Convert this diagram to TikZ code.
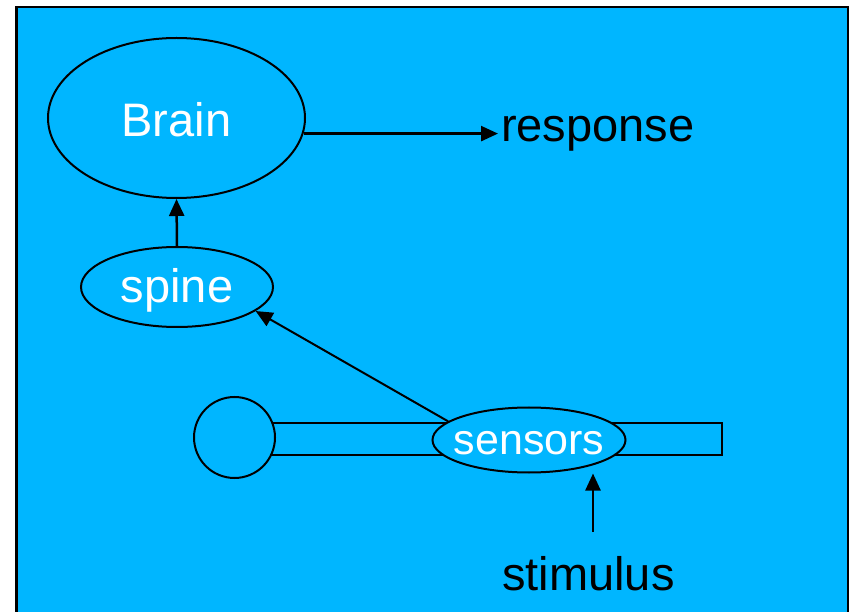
\documentclass[tikz,border=0pt]{standalone}
\usepackage{fontspec}
\setmainfont{Liberation Sans}
\usetikzlibrary{arrows.meta, shapes.geometric}
\definecolor{skyblue}{RGB}{0,182,255}

\begin{document}
\begin{tikzpicture}[x=1pt, y=-1pt, -,
        organ/.style={ellipse, draw, line width=2pt, fill=skyblue, text=white, inner sep=0pt,
            text depth=0pt, font=\fontsize{47}{56}\selectfont},
        word/.style={anchor=base west, inner sep=0pt, font=\fontsize{47}{56}\selectfont},
        signal/.style={-{Triangle[length=17pt, width=15pt]}, line width=2.5pt}]
        \useasboundingbox (0,0) rectangle (852,612);
        \draw[line width=2.5pt, fill=skyblue] (16.5,7) rectangle (848,640);

        \node[organ, minimum width=257pt, minimum height=160pt, text height=38pt](Brain) at (176.5,118){Brain};
        \node[organ, minimum width=192pt, minimum height=80pt, text height=32pt](spine) at (177,287){spine};
        \node[word](response) at (501,142){response};

        \path(Brain.-7) edge [signal, shorten >=3pt] node {}(Brain.-7 -| response.west);
        \path(spine.north) edge [signal] node {}(Brain.south);

        % limb with the sensors on it
        \draw[line width=2pt] (234,423) rectangle (722,455);
        \node[circle, draw, line width=2pt, fill=skyblue, minimum size=81pt, inner sep=0pt](hand) at (234.5,437.5){};
        \node[organ, minimum width=193pt, minimum height=65pt, text height=28pt,
            font=\fontsize{43}{52}\selectfont](sensors) at (529,440){\makebox[0pt]{sensors}};

        \path(sensors.167) edge [signal, line width=2pt] node {}(spine.-17);

        \node[word](stimulus) at (502,590){stimulus};
        \coordinate(stim_top) at (593,532);
        \path(stim_top) edge [signal] node {}(stim_top |- sensors.south);
\end{tikzpicture}
\end{document}
